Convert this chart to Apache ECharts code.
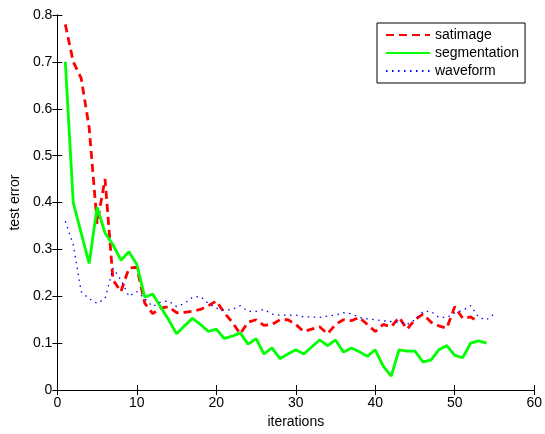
<!DOCTYPE html>
<html>
<head>
<meta charset="utf-8">
<script src="https://cdn.jsdelivr.net/npm/echarts@6/dist/echarts.min.js"></script>
<style>
    html, body { margin: 0; padding: 0; background: #fff; }
    #chart { width: 545px; height: 434px; }
</style>
</head>
<body>
<div id="chart"></div>
<script>
    // test error per iteration (iteration = index + 1)
    var satimage = [
        0.78, 0.70, 0.665, 0.56, 0.355, 0.45, 0.235, 0.21, 0.26, 0.262,
        0.185, 0.163, 0.175, 0.178, 0.165, 0.166, 0.168, 0.172, 0.18, 0.19,
        0.165, 0.145, 0.12, 0.145, 0.15, 0.138, 0.14, 0.15, 0.15, 0.14,
        0.125, 0.13, 0.135, 0.12, 0.14, 0.15, 0.148, 0.155, 0.14, 0.125,
        0.14, 0.135, 0.155, 0.13, 0.15, 0.162, 0.145, 0.137, 0.132, 0.178,
        0.153, 0.156, 0.145
    ];
    var segmentation = [
        0.70, 0.40, 0.335, 0.27, 0.39, 0.335, 0.31, 0.277, 0.295, 0.268,
        0.198, 0.205, 0.177, 0.15, 0.12, 0.137, 0.153, 0.14, 0.125, 0.13,
        0.11, 0.115, 0.122, 0.098, 0.11, 0.077, 0.09, 0.067, 0.077, 0.086,
        0.077, 0.092, 0.107, 0.095, 0.107, 0.081, 0.09, 0.082, 0.072, 0.086,
        0.051, 0.03, 0.086, 0.083, 0.083, 0.06, 0.064, 0.086, 0.095, 0.074,
        0.069, 0.10, 0.105, 0.10
    ];
    var waveform = [
        0.36, 0.31, 0.21, 0.195, 0.185, 0.195, 0.26, 0.235, 0.20, 0.21,
        0.195, 0.178, 0.188, 0.19, 0.178, 0.185, 0.198, 0.20, 0.185, 0.175,
        0.17, 0.172, 0.18, 0.168, 0.168, 0.172, 0.162, 0.16, 0.16, 0.16,
        0.156, 0.156, 0.155, 0.158, 0.16, 0.165, 0.163, 0.155, 0.152, 0.15,
        0.148, 0.146, 0.145, 0.14, 0.15, 0.168, 0.168, 0.155, 0.155, 0.165,
        0.17, 0.18, 0.155, 0.15, 0.163
    ];
    var seriesNames = ['satimage', 'segmentation', 'waveform'];

    function toPoints(values) {
        return values.map(function (v, i) { return [i + 1, v]; });
    }

    var font = "'Liberation Sans', Arial, sans-serif";
    var myChart = echarts.init(document.getElementById('chart'));

    var boxAxis = {
        axisLine: { show: true, lineStyle: { color: '#000', width: 1 } },
        axisTick: { show: true, inside: true, length: 5, lineStyle: { color: '#000' } },
        splitLine: { show: false }
    };

    myChart.setOption({
        backgroundColor: '#fff',
        animation: false,
        textStyle: { fontFamily: font },
        grid: { left: 57, right: 8, top: 15, bottom: 38 },
        legend: {
            data: seriesNames,
            orient: 'vertical',
            left: 377,
            top: 23,
            padding: [5, 6, 5, 8],
            itemGap: 4,
            itemWidth: 44,
            itemHeight: 14,
            backgroundColor: '#fff',
            borderColor: '#000',
            borderWidth: 1,
            borderRadius: 0,
            // hide the marker dot, keep only the line sample
            itemStyle: { opacity: 0 },
            textStyle: { fontSize: 14, color: '#000', fontFamily: font }
        },
        xAxis: [
            Object.assign({}, boxAxis, {
                type: 'value',
                position: 'bottom',
                min: 0, max: 60, interval: 10,
                name: 'iterations',
                nameLocation: 'middle',
                nameGap: 22,
                nameTextStyle: { fontSize: 14, color: '#000', fontFamily: font },
                axisLabel: { fontSize: 14, color: '#000', margin: 6, fontFamily: font }
            }),
            Object.assign({}, boxAxis, {
                type: 'value',
                position: 'top',
                min: 0, max: 60, interval: 10,
                axisLabel: { show: false }
            })
        ],
        yAxis: [
            Object.assign({}, boxAxis, {
                type: 'value',
                position: 'left',
                min: 0, max: 0.8, interval: 0.1,
                name: 'test error',
                nameLocation: 'middle',
                nameGap: 29,
                nameTextStyle: { fontSize: 14, color: '#000', fontFamily: font },
                axisLabel: { fontSize: 14, color: '#000', margin: 5, fontFamily: font }
            }),
            Object.assign({}, boxAxis, {
                type: 'value',
                position: 'right',
                min: 0, max: 0.8, interval: 0.1,
                axisLabel: { show: false }
            })
        ],
        series: [
            {
                name: seriesNames[0],
                type: 'line',
                data: toPoints(satimage),
                symbol: 'none',
                lineStyle: { color: '#ff0000', width: 2.8, type: [8, 5] },
                itemStyle: { color: '#ff0000' }
            },
            {
                name: seriesNames[1],
                type: 'line',
                data: toPoints(segmentation),
                symbol: 'none',
                lineStyle: { color: '#00ff00', width: 2.8, type: 'solid' },
                itemStyle: { color: '#00ff00' }
            },
            {
                name: seriesNames[2],
                type: 'line',
                data: toPoints(waveform),
                symbol: 'none',
                lineStyle: { color: '#0000ff', width: 1.3, type: [1.5, 4.5] },
                itemStyle: { color: '#0000ff' }
            }
        ]
    });
</script>
</body>
</html>
